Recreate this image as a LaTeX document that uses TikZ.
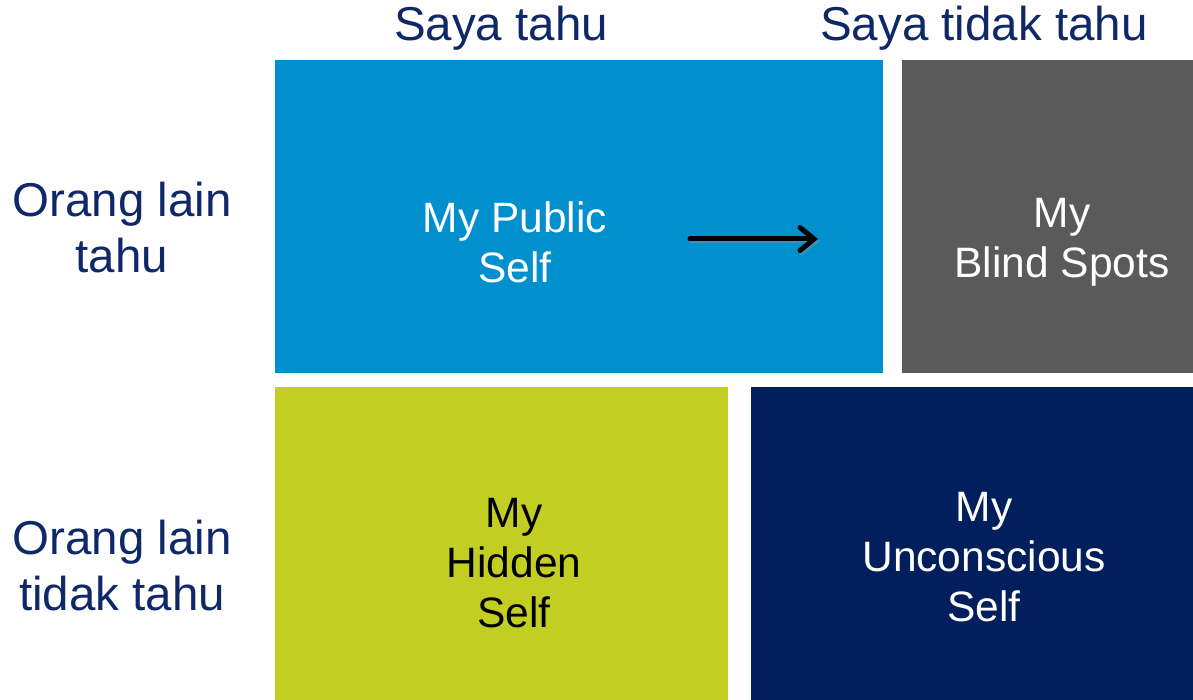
\documentclass[tikz,border=0pt]{standalone}
\usepackage{fontspec}
\setmainfont{Liberation Sans}
\usetikzlibrary{arrows.meta}
\definecolor{pubblue}{HTML}{0090CE}
\definecolor{blindgray}{HTML}{5A5A5A}
\definecolor{hidgreen}{HTML}{C2CE21}
\definecolor{uncnavy}{HTML}{001F5C}
\definecolor{headnavy}{HTML}{0F2868}
\begin{document}
\begin{tikzpicture}[x=1pt,y=-1pt,
  quadtext/.style={align=center,font=\fontsize{42.5}{50}\selectfont},
  headtext/.style={align=center,text=headnavy,font=\fontsize{47.5}{56}\selectfont},
  flowarrow/.style={line width=5pt,line cap=round,
    -{Straight Barb[length=14pt,width=23pt,line cap=round]}}]
  \useasboundingbox (0,0) rectangle (1193,700);
  % four quadrants
  \fill[pubblue]   (275,60)  rectangle (883,373);
  \fill[blindgray] (902,60)  rectangle (1193,373);
  \fill[hidgreen]  (275,387) rectangle (728,700);
  \fill[uncnavy]   (751,387) rectangle (1193,700);
  % quadrant labels
  \node[quadtext,text=white] (pub) at (515,242) {My Public\\Self};
  \node[quadtext,text=white] (blind) at (1062,242) {My\\Blind Spots};
  \node[quadtext,text=black] (hid) at (514,563) {My\\Hidden\\Self};
  \node[quadtext,text=white] (unc) at (984,557) {My\\Unconscious\\Self};
  % column headings
  \node[headtext] (know) at (501,28) {Saya tahu};
  \node[headtext] (notknow) at (984,28) {Saya tidak tahu};
  % row headings
  \node[headtext] (othk) at (122,228) {Orang lain\\tahu};
  \node[headtext] (othnk) at (122,566) {Orang lain\\tidak tahu};
  % arrow inside the public area, with a soft shadow
  \coordinate (arrs) at (690,239);
  \coordinate (arre) at (818,239);
  \draw[flowarrow,black!40,opacity=0.35]
        ([shift={(2,2)}]arrs) -- ([shift={(2,2)}]arre);
  \draw[flowarrow] (arrs) -- (arre);
\end{tikzpicture}
\end{document}
